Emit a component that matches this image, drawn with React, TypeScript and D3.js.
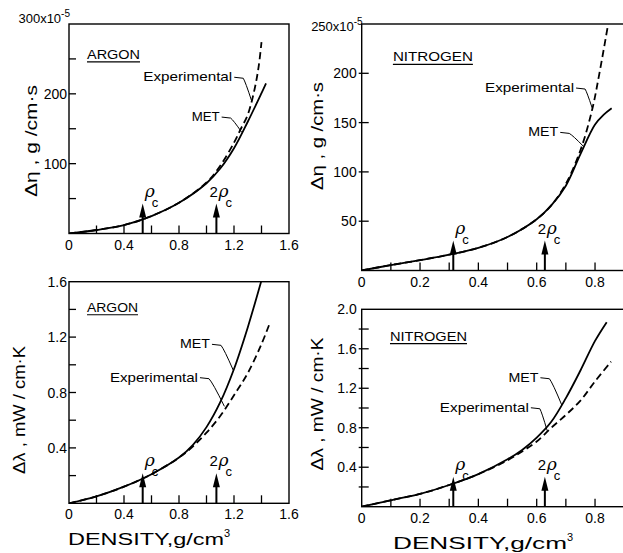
import React from 'react';
import * as d3 from 'd3';

type Pt = [number, number];

// excess viscosity, 10^-5 g/cm·s, against density g/cm3
const argonViscMET: Pt[] = [
  [0, 0], [0.2, 5], [0.4, 12], [0.6, 25], [0.8, 44], [1.0, 72], [1.1, 93],
  [1.2, 122], [1.3, 160], [1.4, 201], [1.433, 215],
];
const argonViscExp: Pt[] = [
  [0, 0], [0.2, 5], [0.4, 12], [0.6, 25], [0.8, 44], [1.0, 73], [1.1, 97],
  [1.2, 130], [1.25, 150], [1.3, 170], [1.35, 207], [1.38, 240], [1.4, 274],
];
const nitrogenViscMET: Pt[] = [
  [0, 0], [0.1, 5.5], [0.2, 10.5], [0.3, 16], [0.4, 23], [0.5, 34], [0.6, 52],
  [0.65, 66], [0.7, 86], [0.75, 118], [0.8, 148], [0.83, 158], [0.857, 164.5],
];
const nitrogenViscExp: Pt[] = [
  [0, 0], [0.1, 5.5], [0.2, 10.5], [0.3, 16], [0.4, 23], [0.5, 34], [0.6, 52],
  [0.65, 66], [0.7, 88], [0.75, 122], [0.79, 163], [0.815, 200], [0.845, 250],
];

// excess thermal conductivity, mW/cm·K
const argonCondMET: Pt[] = [
  [0, 0], [0.2, 0.05], [0.4, 0.12], [0.6, 0.21], [0.8, 0.33], [0.9, 0.42],
  [1.0, 0.55], [1.1, 0.73], [1.2, 0.97], [1.3, 1.27], [1.4, 1.61],
];
const argonCondExp: Pt[] = [
  [0, 0], [0.2, 0.05], [0.4, 0.12], [0.6, 0.21], [0.8, 0.33], [0.9, 0.41],
  [1.0, 0.51], [1.1, 0.63], [1.2, 0.78], [1.3, 0.94], [1.4, 1.15], [1.46, 1.3],
];
const nitrogenCondMET: Pt[] = [
  [0, 0], [0.1, 0.065], [0.2, 0.13], [0.3, 0.22], [0.4, 0.33], [0.5, 0.48],
  [0.55, 0.575], [0.6, 0.7], [0.65, 0.86], [0.7, 1.1], [0.75, 1.38], [0.8, 1.68], [0.84, 1.87],
];
const nitrogenCondExp: Pt[] = [
  [0, 0], [0.1, 0.065], [0.2, 0.13], [0.3, 0.22], [0.4, 0.33], [0.5, 0.47],
  [0.55, 0.56], [0.6, 0.66], [0.65, 0.8], [0.7, 0.93], [0.75, 1.075], [0.8, 1.27], [0.855, 1.47],
];

const argonXTicks = [0.2, 0.4, 0.6, 0.8, 1.0, 1.2, 1.4];
const argonXLabels = [0.4, 0.8, 1.2, 1.6];
const nitrogenXTicks = [0.1, 0.2, 0.3, 0.4, 0.5, 0.6, 0.7, 0.8];
const nitrogenXLabels = [0.2, 0.4, 0.6, 0.8];

const argonViscYTicks = [50, 100, 150, 200, 250];
const argonViscYLabels = [100, 200];
const nitrogenViscYTicks = [50, 100, 150, 200];
const nitrogenViscYLabels = [50, 100, 150, 200];
const argonCondYTicks = [0.2, 0.4, 0.6, 0.8, 1.0, 1.2, 1.4];
const argonCondYLabels = [0.4, 0.8, 1.2, 1.6];
const nitrogenCondYTicks = [0.2, 0.4, 0.6, 0.8, 1.0, 1.2, 1.4, 1.6, 1.8];
const nitrogenCondYLabels = [0.4, 0.8, 1.2, 1.6, 2.0];

const rhoCritical = { argon: 0.536, nitrogen: 0.314 };

const FONT = '"Liberation Sans", Arial, sans-serif';

interface Label { x: number; y: number; w: number; }

interface PanelProps {
  id: string;
  box: { left: number; right: number; top: number; bottom: number };
  xMax: number;
  yMax: number;
  xTicks: number[];
  xLabels: number[];
  yTicks: number[];
  yLabels: number[];
  yFmt: (v: number) => string;
  topLabel?: string;
  topLabelY?: number;
  tickOut: number;
  met: Pt[];
  exp: Pt[];
  gas: string;
  gasLabel: Label;
  metLabel: Label;
  metTarget: Pt;
  expLabel: Label;
  expTarget: Pt;
  rho: number;
  yTitle: string;
  yTitleX: number;
  yTitleY: number;
  yTitleLen: number;
  densityLabel?: { x: number; y: number; w: number };
}

function Panel(p: PanelProps) {
  const { box } = p;
  const x = d3.scaleLinear().domain([0, p.xMax]).range([box.left, box.right]);
  const y = d3.scaleLinear().domain([0, p.yMax]).range([box.bottom, box.top]);
  const line = d3.line<Pt>().x(d => x(d[0])).y(d => y(d[1])).curve(d3.curveCatmullRom.alpha(0.5));

  const leader = (l: Label, t: Pt) => {
    const sx = x(l.x) + l.w + 2;
    const sy = y(l.y) - 4;
    const mx = sx + 9;
    const my = sy + 1;
    const ex = x(t[0]);
    const ey = y(t[1]);
    const cx = mx + (ex - mx) * 0.25;
    const cy = my + (ey - my) * 0.15;
    return `M${sx},${sy}L${mx},${my}Q${cx},${cy} ${ex},${ey}`;
  };

  const arrow = (v: number, two: boolean) => {
    const ax = x(v);
    const by = box.bottom;
    return (
      <g key={`a${v}`}>
        <line x1={ax} x2={ax} y1={by} y2={by - 17} stroke="#000" strokeWidth={2} />
        <path d={`M${ax - 3.5},${by - 16}L${ax + 3.5},${by - 16}L${ax},${by - 30}Z`} fill="#000" />
        {two && (
          <text x={ax - 7} y={by - 37} fontSize={15} fontFamily={FONT}>2</text>
        )}
        <text x={ax + 2} y={by - 37} fontSize={17} fontStyle="italic" fontFamily="DejaVu Serif, serif">ρ</text>
        <text x={ax + 9} y={by - 27} fontSize={13} fontFamily={FONT}>c</text>
      </g>
    );
  };

  return (
    <g>
      <defs>
        <clipPath id={`clip-${p.id}`}>
          <rect x={box.left} y={box.top} width={box.right - box.left} height={box.bottom - box.top} />
        </clipPath>
      </defs>
      <rect x={box.left} y={box.top} width={box.right - box.left} height={box.bottom - box.top}
        fill="none" stroke="#000" strokeWidth={1.4} />
      {p.xTicks.map(t => (
        <line key={`xt${t}`} x1={x(t)} x2={x(t)} y1={box.bottom} y2={box.bottom - 8} stroke="#000" strokeWidth={1.3} />
      ))}
      {p.yTicks.map(t => (
        <line key={`yt${t}`} x1={box.left - p.tickOut} x2={box.left + 7} y1={y(t)} y2={y(t)} stroke="#000" strokeWidth={1.3} />
      ))}
      <text x={box.left} y={box.bottom + 16} fontSize={14} textAnchor="middle" fontFamily={FONT}>0</text>
      {p.xLabels.map(t => (
        <text key={`xl${t}`} x={x(t)} y={box.bottom + 16} fontSize={14} textAnchor="middle" fontFamily={FONT}>
          {t.toFixed(1)}
        </text>
      ))}
      {p.yLabels.map(t => (
        <text key={`yl${t}`} x={box.left - p.tickOut - 2} y={y(t)} dy="0.36em" fontSize={14} textAnchor="end" fontFamily={FONT}>
          {p.yFmt(t)}
        </text>
      ))}
      {p.topLabel && (
        <text x={box.left + 1} y={p.topLabelY} fontSize={13} textAnchor="end" fontFamily={FONT}>
          {p.topLabel}
          <tspan fontSize={10} dy={-6}>-5</tspan>
        </text>
      )}
      <g clipPath={`url(#clip-${p.id})`}>
        <path d={line(p.exp) || ''} fill="none" stroke="#000" strokeWidth={1.8} strokeDasharray="7,4" />
        <path d={line(p.met) || ''} fill="none" stroke="#000" strokeWidth={1.8} />
      </g>
      <text x={x(p.gasLabel.x)} y={y(p.gasLabel.y)} fontSize={13} textLength={p.gasLabel.w}
        lengthAdjust="spacingAndGlyphs" fontFamily={FONT}>{p.gas}</text>
      <line x1={x(p.gasLabel.x)} x2={x(p.gasLabel.x) + p.gasLabel.w} y1={y(p.gasLabel.y) + 3}
        y2={y(p.gasLabel.y) + 3} stroke="#000" strokeWidth={1.2} />
      <text x={x(p.expLabel.x)} y={y(p.expLabel.y)} fontSize={13} textLength={p.expLabel.w}
        lengthAdjust="spacingAndGlyphs" fontFamily={FONT}>Experimental</text>
      <path d={leader(p.expLabel, p.expTarget)} fill="none" stroke="#000" strokeWidth={1} />
      <text x={x(p.metLabel.x)} y={y(p.metLabel.y)} fontSize={13} textLength={p.metLabel.w}
        lengthAdjust="spacingAndGlyphs" fontFamily={FONT}>MET</text>
      <path d={leader(p.metLabel, p.metTarget)} fill="none" stroke="#000" strokeWidth={1} />
      {arrow(p.rho, false)}
      {arrow(2 * p.rho, true)}
      <text transform={`translate(${p.yTitleX},${p.yTitleY}) rotate(-90)`} fontSize={16}
        textAnchor="middle" textLength={p.yTitleLen} lengthAdjust="spacingAndGlyphs" fontFamily={FONT}>
        {p.yTitle}
      </text>
      {p.densityLabel && (
        <text x={p.densityLabel.x} y={p.densityLabel.y} fontSize={16} fontFamily={FONT}>
          <tspan textLength={p.densityLabel.w} lengthAdjust="spacingAndGlyphs">DENSITY,g/cm</tspan>
          <tspan fontSize={11} dy={-8}>3</tspan>
        </text>
      )}
    </g>
  );
}

const fmt1 = (v: number) => v.toFixed(1);
const fmt0 = (v: number) => String(v);

export default function App() {
  return (
    <svg width={623} height={553} style={{ position: 'absolute', left: 0, top: 0, background: '#fff' }}>
      <Panel
        id="p1"
        box={{ left: 69, right: 289, top: 24, bottom: 233.5 }}
        xMax={1.6} yMax={300}
        xTicks={argonXTicks} xLabels={argonXLabels}
        yTicks={argonViscYTicks} yLabels={argonViscYLabels} yFmt={fmt0}
        topLabel="300x10" topLabelY={23} tickOut={0}
        met={argonViscMET} exp={argonViscExp}
        gas="ARGON" gasLabel={{ x: 0.131, y: 250, w: 53 }}
        expLabel={{ x: 0.54, y: 218, w: 89 }} expTarget={[1.328, 190]}
        metLabel={{ x: 0.892, y: 161, w: 28 }} metTarget={[1.256, 145]}
        rho={rhoCritical.argon}
        yTitle="Δη , g /cm·s" yTitleX={37} yTitleY={141} yTitleLen={112}
      />
      <Panel
        id="p2"
        box={{ left: 361.7, right: 624.2, top: 24, bottom: 270.5 }}
        xMax={0.9} yMax={250}
        xTicks={nitrogenXTicks} xLabels={nitrogenXLabels}
        yTicks={nitrogenViscYTicks} yLabels={nitrogenViscYLabels} yFmt={fmt0}
        topLabel="250x10" topLabelY={31} tickOut={3}
        met={nitrogenViscMET} exp={nitrogenViscExp}
        gas="NITROGEN" gasLabel={{ x: 0.107, y: 212, w: 80 }}
        expLabel={{ x: 0.423, y: 181, w: 89 }} expTarget={[0.79, 165]}
        metLabel={{ x: 0.571, y: 136, w: 30 }} metTarget={[0.76, 126]}
        rho={rhoCritical.nitrogen}
        yTitle="Δη , g /cm·s" yTitleX={323} yTitleY={136} yTitleLen={108}
      />
      <Panel
        id="p3"
        box={{ left: 69, right: 289, top: 281.7, bottom: 503.3 }}
        xMax={1.6} yMax={1.6}
        xTicks={argonXTicks} xLabels={argonXLabels}
        yTicks={argonCondYTicks} yLabels={argonCondYLabels} yFmt={fmt1}
        tickOut={0}
        met={argonCondMET} exp={argonCondExp}
        gas="ARGON" gasLabel={{ x: 0.131, y: 1.383, w: 51 }}
        expLabel={{ x: 0.298, y: 0.878, w: 88 }} expTarget={[1.13, 0.7]}
        metLabel={{ x: 0.807, y: 1.119, w: 30 }} metTarget={[1.195, 0.96]}
        rho={rhoCritical.argon}
        yTitle="Δλ , mW / cm·K" yTitleX={25} yTitleY={410} yTitleLen={128}
        densityLabel={{ x: 68, y: 545, w: 156 }}
      />
      <Panel
        id="p4"
        box={{ left: 361.7, right: 624.2, top: 309.3, bottom: 506.7 }}
        xMax={0.9} yMax={2.0}
        xTicks={nitrogenXTicks} xLabels={nitrogenXLabels}
        yTicks={nitrogenCondYTicks} yLabels={nitrogenCondYLabels} yFmt={fmt1}
        tickOut={3}
        met={nitrogenCondMET} exp={nitrogenCondExp}
        gas="NITROGEN" gasLabel={{ x: 0.097, y: 1.682, w: 77 }}
        expLabel={{ x: 0.268, y: 0.962, w: 89 }} expTarget={[0.636, 0.77]}
        metLabel={{ x: 0.503, y: 1.266, w: 30 }} metTarget={[0.686, 1.03]}
        rho={rhoCritical.nitrogen}
        yTitle="Δλ , mW / cm·K" yTitleX={323} yTitleY={404} yTitleLen={133}
        densityLabel={{ x: 393, y: 549, w: 174 }}
      />
    </svg>
  );
}
